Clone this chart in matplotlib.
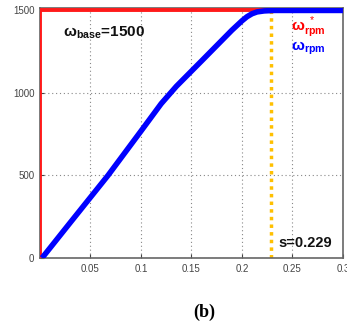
import matplotlib
matplotlib.use('Agg')
import matplotlib.pyplot as plt

s_ref = [0.0, 0.0, 0.3]
w_ref = [0, 1500, 1500]

s_rpm = [0.002, 0.03, 0.0673, 0.10, 0.12, 0.135, 0.16, 0.19, 0.20, 0.205,
         0.21, 0.215, 0.222, 0.232, 0.3]
w_rpm = [0, 215, 500, 769, 935, 1040, 1194, 1380, 1437, 1462,
         1480, 1491, 1497, 1500, 1500]

s_mark = 0.229
x_ticks = [0.05, 0.1, 0.15, 0.2, 0.25, 0.3]
x_labels = ['0.05', '0.1', '0.15', '0.2', '0.25', '0.3']
y_ticks = [0, 500, 1000, 1500]

plt.rcParams['font.family'] = ['Liberation Sans', 'DejaVu Sans']
plt.rcParams['mathtext.fontset'] = 'custom'
plt.rcParams['mathtext.bf'] = 'Liberation Sans:bold'
plt.rcParams['mathtext.rm'] = 'Liberation Sans'

fig = plt.figure(figsize=(3.47, 3.26), dpi=100)
ax = fig.add_axes([0.1153, 0.2086, 0.873, 0.767])

ax.plot(s_ref, w_ref, color='#ff1a1a', linewidth=2.8, zorder=3)
ax.plot(s_rpm, w_rpm, color='#0000ff', linewidth=4.0, solid_capstyle='butt',
        solid_joinstyle='round', zorder=4)
ax.plot([s_mark, s_mark], [0, 1515], color='#ffc000', linewidth=2.5,
        linestyle=(0, (1, 1.2)), zorder=2)

ax.set_xlim(0, 0.3)
ax.set_ylim(0, 1515)
ax.set_xticks(x_ticks)
ax.set_xticklabels(x_labels)
ax.set_yticks(y_ticks)
ax.tick_params(direction='in', length=3, labelsize=7, colors='#444444', pad=4)
ax.grid(True, linestyle=(0, (1, 2.5)), color='#888888', linewidth=0.8)
for sp in ax.spines.values():
    sp.set_color('#666666')
    sp.set_linewidth(1.2)

ax.text(0.0228, 1364, 'ω$_{\\mathbf{base}}$=1500', fontsize=11,
        fontweight='bold', color='#111111', va='center')
ax.text(0.2485, 1400, 'ω$_{\\mathbf{rpm}}^{\\ *}$', fontsize=11, fontweight='bold',
        color='#ff0000', va='center')
ax.text(0.2485, 1270, 'ω$_{\\mathbf{rpm}}$', fontsize=11, fontweight='bold',
        color='#0000ff', va='center')
ax.text(0.2366, 90, 's=0.229', fontsize=10.5, fontweight='bold', color='#111111',
        va='center')

fig.text(0.59, 0.043, '(b)', fontsize=13, fontweight='bold', family='Liberation Serif',
         ha='center', va='center')

fig.savefig('out.png', dpi=100)
